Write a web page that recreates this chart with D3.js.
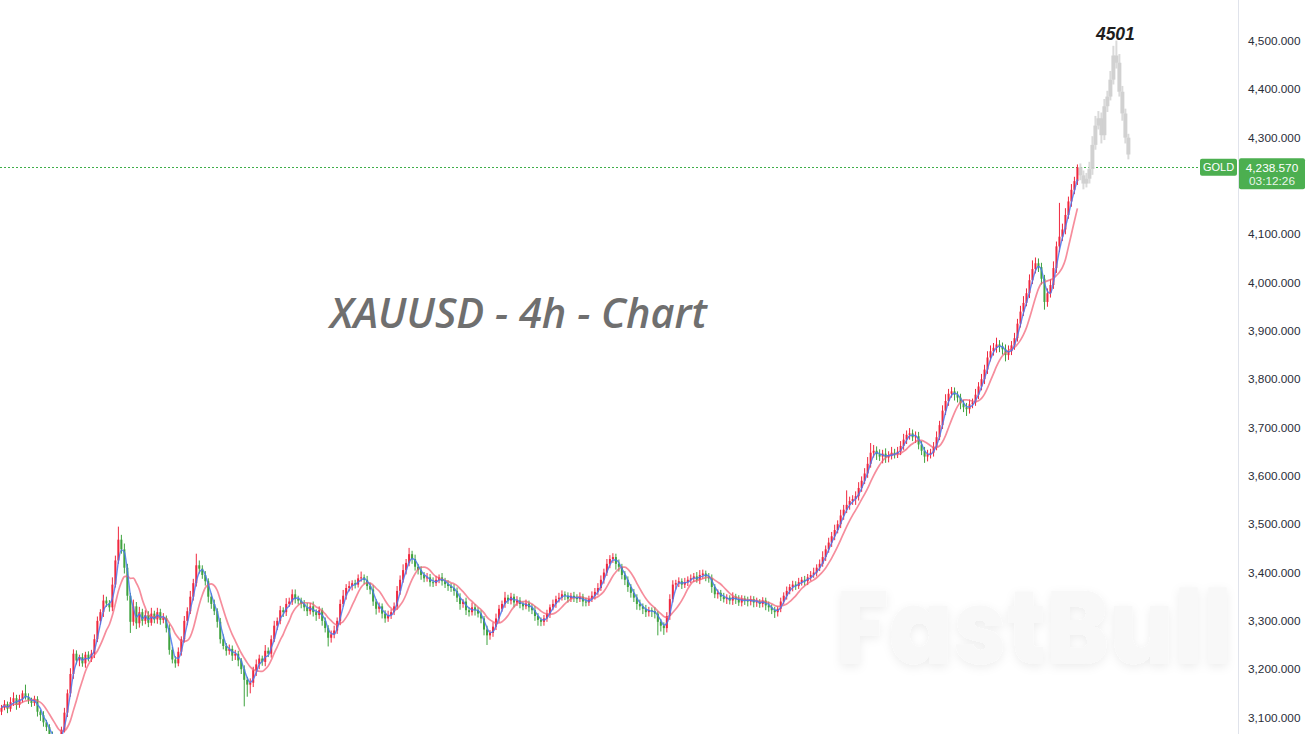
<!DOCTYPE html>
<html><head><meta charset="utf-8">
<script src="https://cdn.jsdelivr.net/npm/d3@7"></script>
<style>html,body{margin:0;padding:0;background:#fff;overflow:hidden}svg{display:block}</style>
</head><body>
<svg id="c" width="1311" height="734"></svg>
<script>
// ---------- DATA ----------
const firstOpen = 3112;
const closes = [
3120,3128,3118,3132,3140,3126,3138,3150,3142,3136,
3130,3138,3112,3105,3090,3080,3062,3055,3048,3058,
3075,3110,3150,3190,3232,3218,3225,3212,3230,3222,
3232,3262,3300,3318,3342,3336,3328,3375,3425,3468,
3448,3410,3352,3298,3330,3295,3318,3300,3312,3296,
3315,3303,3318,3302,3306,3285,3240,3220,3212,3236,
3262,3300,3320,3350,3378,3415,3408,3395,3382,3350,
3335,3320,3298,3262,3248,3238,3242,3228,3232,3218,
3200,3178,3168,3172,3198,3210,3222,3215,3238,3232,
3262,3290,3300,3322,3318,3335,3340,3355,3345,3342,
3335,3328,3320,3330,3318,3312,3322,3300,3285,3265,
3272,3280,3300,3335,3352,3368,3372,3378,3375,3388,
3390,3385,3372,3365,3340,3325,3330,3315,3305,3312,
3318,3330,3362,3385,3405,3420,3438,3428,3412,3405,
3395,3388,3390,3380,3378,3385,3390,3382,3376,3372,
3368,3362,3348,3335,3340,3322,3318,3328,3322,3315,
3305,3282,3270,3275,3288,3305,3325,3335,3348,3342,
3350,3338,3342,3335,3330,3336,3328,3322,3310,3302,
3298,3305,3315,3328,3335,3345,3348,3355,3352,3346,
3352,3348,3345,3350,3340,3338,3345,3352,3360,3368,
3385,3400,3418,3428,3432,3418,3412,3395,3385,3370,
3358,3348,3335,3330,3325,3318,3322,3320,3315,3298,
3290,3285,3310,3345,3375,3378,3382,3375,3380,3385,
3388,3392,3385,3395,3398,3392,3388,3370,3355,3358,
3350,3345,3348,3342,3350,3345,3338,3346,3342,3340,
3345,3338,3340,3335,3342,3332,3328,3322,3318,3325,
3340,3352,3362,3370,3375,3372,3380,3385,3382,3390,
3395,3400,3410,3418,3432,3448,3462,3475,3488,3500,
3518,3530,3540,3548,3552,3558,3575,3590,3605,3625,
3648,3652,3645,3640,3646,3638,3642,3648,3645,3650,
3662,3675,3685,3688,3680,3682,3665,3652,3640,3645,
3648,3660,3680,3705,3735,3755,3770,3775,3768,3762,
3750,3742,3738,3748,3752,3768,3785,3800,3820,3845,
3858,3865,3872,3868,3862,3850,3858,3870,3885,3915,
3940,3958,3978,4005,4028,4040,4032,4008,3960,3978,
3995,4030,4075,4095,4110,4140,4168,4192,4210,4238.57
];
const upWick = [
6,8,5,10,12,7,9,6,18,8,
5,7,6,4,8,5,6,9,7,5,
6,10,8,12,9,7,5,8,6,7,
8,10,9,6,12,8,7,15,10,27,
10,12,8,6,14,9,11,7,10,8,
12,6,9,7,10,5,8,6,7,9,
6,10,8,12,9,24,10,7,8,6,
7,9,6,8,10,6,9,7,8,6,
5,8,6,9,7,10,8,6,12,7,
8,10,7,9,6,12,8,10,10,7,
6,8,9,7,10,6,8,5,7,6,
8,10,7,9,12,8,10,6,7,8,
12,6,8,7,9,5,8,6,7,9,
6,8,10,9,12,8,13,7,9,6,
8,6,9,7,10,8,6,9,7,8,
6,8,7,9,5,8,6,10,7,6,
7,5,8,6,9,10,8,7,12,6,
8,6,9,7,5,8,6,7,9,6,
5,7,8,6,9,7,10,8,6,7,
6,8,7,9,6,8,7,9,8,10,
9,8,10,8,8,7,9,6,8,7,
6,8,7,9,6,8,7,6,8,5,
6,7,8,10,9,7,8,6,9,7,
8,7,9,10,8,6,7,8,6,7,
6,8,7,5,9,6,8,7,6,8,
7,6,8,5,7,6,8,6,7,5,
8,7,9,6,8,7,9,6,8,7,
8,10,7,9,12,8,10,9,11,8,
12,10,30,9,8,10,12,9,11,14,
20,12,9,10,8,11,9,12,8,10,
10,12,9,11,8,10,9,7,8,9,
8,10,12,9,11,14,10,9,8,7,
8,7,9,10,8,12,9,11,10,13,
12,10,14,9,8,10,12,9,11,10,
12,14,10,12,18,12,10,9,8,10,
12,14,10,70,12,14,10,12,9,6
];
const dnWick = [
7,5,9,6,8,10,6,7,5,8,
8,6,10,12,9,8,10,7,9,6,
8,6,9,7,10,8,12,7,9,6,
7,9,6,8,10,7,9,8,6,7,
9,12,10,23,8,12,9,10,7,9,
6,8,9,10,7,9,10,8,9,6,
8,7,9,6,8,7,10,8,9,12,
10,8,12,9,7,10,8,11,9,12,
10,55,25,18,9,12,10,8,9,7,
8,6,9,7,10,8,6,7,9,8,
9,8,10,7,9,12,8,10,9,18,
10,8,7,9,6,8,7,9,8,6,
7,9,8,10,9,12,8,10,9,7,
8,6,7,8,6,9,7,10,8,9,
10,8,7,9,8,6,7,9,8,10,
8,10,9,12,8,10,9,7,11,8,
10,12,20,9,8,7,9,6,8,7,
8,10,7,9,8,6,9,8,10,12,
9,8,7,9,6,8,7,6,9,8,
7,9,8,6,10,8,7,6,8,7,
6,8,7,9,8,12,10,9,11,10,
10,9,12,8,11,10,9,12,10,28,
12,14,9,8,7,10,8,9,7,8,
7,8,6,9,8,10,9,12,8,9,
9,7,10,8,9,10,7,8,9,10,
8,10,9,8,7,10,9,8,12,9,
7,6,8,7,9,8,6,7,9,8,
7,6,8,7,6,8,7,9,8,7,
8,9,7,10,8,12,9,8,7,9,
8,10,12,9,14,11,10,8,9,8,
7,8,9,10,8,12,10,9,13,10,
9,8,7,6,8,9,10,8,12,10,
12,10,14,9,8,7,9,8,10,9,
8,9,10,12,11,13,10,8,9,7,
8,9,7,10,8,9,10,12,16,10,
9,8,10,12,9,10,8,11,9,8
];
// grey projected path after the last real candle
const projCloses = [4222,4205,4215,4235,4285,4325,4340,4305,4365,4385,4420,4470,4455,4395,4350,4300,4265];
const projUp     = [8,10,12,15,18,20,15,12,15,12,18,20,31,18,12,10,8];
const projDn     = [10,12,8,10,12,10,8,17,10,12,8,10,12,10,15,12,10];
const priceTicks = [3100,3200,3300,3400,3500,3600,3700,3800,3900,4000,4100,4200,4300,4400,4500];
const lastPrice = 4238.57;
const countdown = "03:12:26";
const symbol = "GOLD";
const titleText = "XAUUSD - 4h - Chart";
const peakLabel = "4501";
const peakValue = 4501;
const watermark = "FastBull";
const fastMA = 3, slowMA = 8;

// ---------- BUILD ----------
const W = 1311, H = 734, axisX = 1238;
const svg = d3.select("#c");
const nReal = closes.length, nAll = nReal + projCloses.length;
const x = d3.scaleLinear().domain([0, nAll - 1]).range([1.5, 1.5 + (nAll - 1) * 2.997]);
const y = d3.scaleLinear().domain([3100, 4500]).range([717.5, 41]);

function toOHLC(cl, up, dn, o0) {
  return cl.map((c, i) => {
    const o = i === 0 ? o0 : cl[i - 1];
    return { o, c, h: Math.max(o, c) + up[i], l: Math.min(o, c) - dn[i] };
  });
}
const real = toOHLC(closes, upWick, dnWick, firstOpen);
const proj = toOHLC(projCloses, projUp, projDn, closes[nReal - 1]);

const defs = svg.append("defs");
defs.append("clipPath").attr("id", "plot").append("rect").attr("x", 0).attr("y", 0).attr("width", axisX).attr("height", H);
const f = defs.append("filter").attr("id", "wm").attr("x", "-10%").attr("y", "-30%").attr("width", "120%").attr("height", "160%");
f.append("feDropShadow").attr("dx", 0).attr("dy", 3).attr("stdDeviation", 5).attr("flood-color", "#000").attr("flood-opacity", 0.07);

// watermark (scaled to fit between x=836 and x=1234)
const wmG = svg.append("g");
const wmT = wmG.append("text").attr("x", 0).attr("y", 0).attr("font-family", "Poppins, 'Open Sans', sans-serif")
  .attr("font-weight", 800).attr("font-size", 104).attr("fill", "#f8f8f8").attr("filter", "url(#wm)")
  .text(watermark);
const wmw = wmT.node().getComputedTextLength();
wmG.attr("transform", `translate(836,664) scale(${396 / wmw},1)`);

// title
const tt = svg.append("text").attr("x", 330).attr("y", 328).attr("font-family", "'Open Sans', sans-serif")
  .attr("font-style", "italic").attr("font-weight", 600).attr("font-size", 42).attr("fill", "#6f6f6f").text(titleText);
const tw = tt.node().getComputedTextLength();
tt.attr("font-size", 42 * 377 / tw);

// axis
svg.append("line").attr("x1", axisX + 0.5).attr("x2", axisX + 0.5).attr("y1", 0).attr("y2", H).attr("stroke", "#e0e3eb");
const fmt = d3.format(",.3f");
const ly = y(lastPrice);
svg.append("g").selectAll("text").data(priceTicks.filter(d => Math.abs(y(d) - (ly + 6)) > 22)).join("text")
  .attr("x", 1248).attr("y", d => y(d) + 4).attr("font-family", "'Liberation Sans', Arial, sans-serif")
  .attr("font-size", 11.8).attr("fill", "#2a2e39").text(d => fmt(d));

const plot = svg.append("g").attr("clip-path", "url(#plot)");

// last price dotted line
plot.append("line").attr("x1", 0).attr("x2", 1200).attr("y1", Math.round(ly) + 0.5).attr("y2", Math.round(ly) + 0.5)
  .attr("stroke", "#3fae49").attr("stroke-width", 1).attr("stroke-dasharray", "2,2").attr("shape-rendering", "crispEdges");

// projection (grey)
const pg = plot.append("g").attr("opacity", 0.9);
pg.selectAll("line").data(proj).join("line")
  .attr("x1", (d, i) => x(nReal + i)).attr("x2", (d, i) => x(nReal + i))
  .attr("y1", d => y(d.h)).attr("y2", d => y(d.l)).attr("stroke", "#d6d6d6").attr("stroke-width", 2);
pg.selectAll("rect").data(proj).join("rect")
  .attr("x", (d, i) => x(nReal + i) - 2).attr("width", 4)
  .attr("y", d => y(Math.max(d.o, d.c))).attr("height", d => Math.max(1, y(Math.min(d.o, d.c)) - y(Math.max(d.o, d.c))))
  .attr("fill", "#cdcdcd");

// real candles (red = up, green = down)
const UP = "#f0283f", DN = "#3fa33f";
const cg = plot.append("g");
cg.selectAll("line").data(real).join("line")
  .attr("x1", (d, i) => x(i)).attr("x2", (d, i) => x(i))
  .attr("y1", d => y(d.h)).attr("y2", d => y(d.l))
  .attr("stroke", d => d.c >= d.o ? UP : DN).attr("stroke-width", 1);
cg.selectAll("rect").data(real).join("rect")
  .attr("x", (d, i) => x(i) - 1).attr("width", 2)
  .attr("y", d => y(Math.max(d.o, d.c))).attr("height", d => Math.max(1, y(Math.min(d.o, d.c)) - y(Math.max(d.o, d.c))))
  .attr("fill", d => d.c >= d.o ? UP : DN);

// moving averages
function sma(arr, n) { return arr.map((v, i) => d3.mean(arr.slice(Math.max(0, i - n + 1), i + 1))); }
const line = d3.line().x((d, i) => x(i)).y(d => y(d)).curve(d3.curveMonotoneX);
plot.append("path").attr("d", line(sma(closes, slowMA))).attr("fill", "none").attr("stroke", "#f25c72").attr("stroke-opacity", 0.7).attr("stroke-width", 1.7);
plot.append("path").attr("d", line(sma(closes, fastMA))).attr("fill", "none").attr("stroke", "#4a78f0").attr("stroke-opacity", 0.85).attr("stroke-width", 1.4);

// peak label
const pkIdx = nReal + proj.findIndex(d => d.h === d3.max(proj, p => p.h));
svg.append("text").attr("x", x(pkIdx) - 1).attr("y", y(peakValue) - 1).attr("text-anchor", "middle")
  .attr("font-family", "'Liberation Sans', Arial, sans-serif").attr("font-weight", "bold").attr("font-style", "italic")
  .attr("font-size", 17.5).attr("fill", "#1e1e1e").text(peakLabel);

// price labels
svg.append("rect").attr("x", 1200).attr("y", ly - 8.5).attr("width", 37).attr("height", 17).attr("rx", 2).attr("fill", "#4caf50");
svg.append("text").attr("x", 1218.5).attr("y", ly + 4).attr("text-anchor", "middle").attr("font-family", "'Liberation Sans', Arial, sans-serif")
  .attr("font-size", 11).attr("fill", "#fff").text(symbol);
svg.append("rect").attr("x", 1239).attr("y", ly - 9).attr("width", 66).attr("height", 31).attr("rx", 2).attr("fill", "#4caf50");
svg.append("text").attr("x", 1272).attr("y", ly + 4.5).attr("text-anchor", "middle").attr("font-family", "'Liberation Sans', Arial, sans-serif")
  .attr("font-size", 11.8).attr("fill", "#fff").text(d3.format(",.3f")(lastPrice));
svg.append("text").attr("x", 1272).attr("y", ly + 18).attr("text-anchor", "middle").attr("font-family", "'Liberation Sans', Arial, sans-serif")
  .attr("font-size", 11.8).attr("fill", "#e8f5e9").text(countdown);
</script>
</body></html>
